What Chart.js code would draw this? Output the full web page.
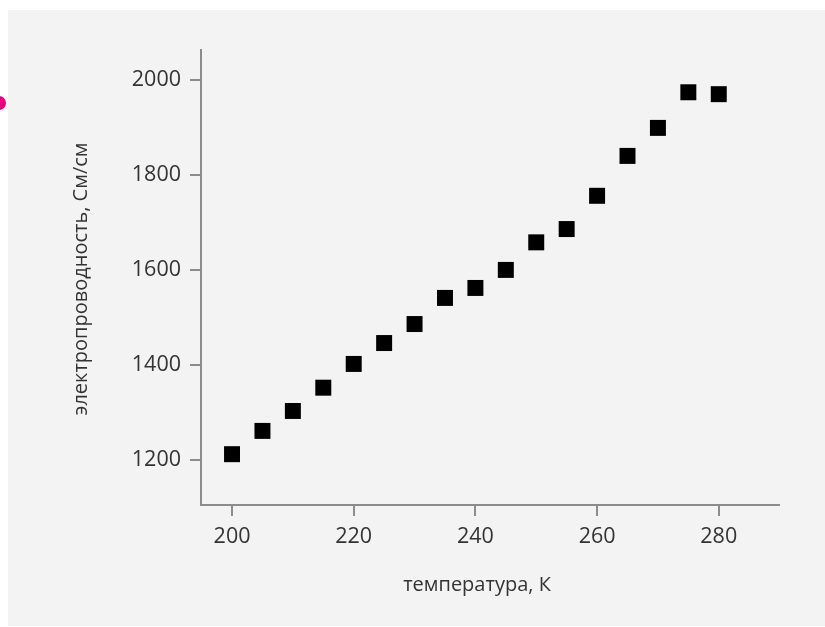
<!DOCTYPE html>
<html>
<head>
<meta charset="utf-8">
<script src="https://cdn.jsdelivr.net/npm/chart.js@4"></script>
<style>
  html, body { margin: 0; padding: 0; background: #ffffff; }
  #wrap { position: relative; width: 825px; height: 627px; overflow: hidden; }
  #panel { position: absolute; left: 8px; top: 10px; width: 817px; height: 616px; background: #f3f3f3; }
  #mark { position: absolute; left: -8px; top: 96px; width: 14px; height: 14px; background: #e5007d; border-radius: 50% 50% 50% 20%; }
  #c { position: absolute; left: 0; top: 0; }
</style>
</head>
<body>
<div id="wrap">
  <div id="panel"></div>
  <div id="mark"></div>
  <canvas id="c" width="825" height="627"></canvas>
</div>
<script>
// ---- data ----
const temperatures = [200, 205, 210, 215, 220, 225, 230, 235, 240, 245, 250, 255, 260, 265, 270, 275, 280];
const conductivity = [1212, 1261, 1303, 1352, 1402, 1446, 1486, 1541, 1562, 1600, 1658, 1686, 1756, 1840, 1899, 1974, 1970];
const xTickValues = [200, 220, 240, 260, 280];
const yTickValues = [1200, 1400, 1600, 1800, 2000];
const xTitle = 'температура, К';
const yTitle = 'электропроводность, См/см';

const points = temperatures.map((t, i) => ({ x: t, y: conductivity[i] }));

const FONT = "'Open Sans', 'DejaVu Sans', sans-serif";
const TEXT = '#333333';
const AXIS = '#8c8c8c';

const titlePlugin = {
  id: 'axisTitles',
  afterDraw(chart) {
    const ctx = chart.ctx;
    ctx.save();
    ctx.fillStyle = TEXT;
    ctx.font = "20px " + FONT;
    ctx.textAlign = 'center';
    ctx.textBaseline = 'middle';
    ctx.fillText(xTitle, 477, 585);
    ctx.translate(81, 279);
    ctx.rotate(-Math.PI / 2);
    ctx.fillText(yTitle, 0, 0);
    ctx.restore();
  }
};

new Chart(document.getElementById('c'), {
  type: 'scatter',
  data: {
    datasets: [{
      data: points,
      pointStyle: 'rect',
      pointRadius: 11.3,
      pointHoverRadius: 11.3,
      backgroundColor: '#000000',
      borderColor: '#000000',
      borderWidth: 0
    }]
  },
  options: {
    responsive: false,
    animation: false,
    events: [],
    layout: { padding: { top: 50, right: 46, left: 0, bottom: 0 } },
    plugins: { legend: { display: false }, tooltip: { enabled: false } },
    scales: {
      x: {
        type: 'linear',
        min: 194.9,
        max: 289.9,
        afterFit(s) { s.height = 122; },
        afterBuildTicks(s) { s.ticks = xTickValues.map(v => ({ value: v })); },
        grid: { drawOnChartArea: false, drawTicks: true, tickLength: 11, color: AXIS, lineWidth: 2 },
        border: { display: true, color: AXIS, width: 2 },
        ticks: { color: TEXT, font: { family: FONT, size: 21.5 }, padding: 8, maxRotation: 0, callback: v => String(v) }
      },
      y: {
        type: 'linear',
        min: 1105,
        max: 2063,
        afterFit(s) { s.width = 201; },
        afterBuildTicks(s) { s.ticks = yTickValues.map(v => ({ value: v })); },
        grid: { drawOnChartArea: false, drawTicks: true, tickLength: 11, color: AXIS, lineWidth: 2 },
        border: { display: true, color: AXIS, width: 2 },
        ticks: { color: TEXT, font: { family: FONT, size: 21.5 }, padding: 9, callback: v => String(v) }
      }
    }
  },
  plugins: [titlePlugin]
});
</script>
</body>
</html>
